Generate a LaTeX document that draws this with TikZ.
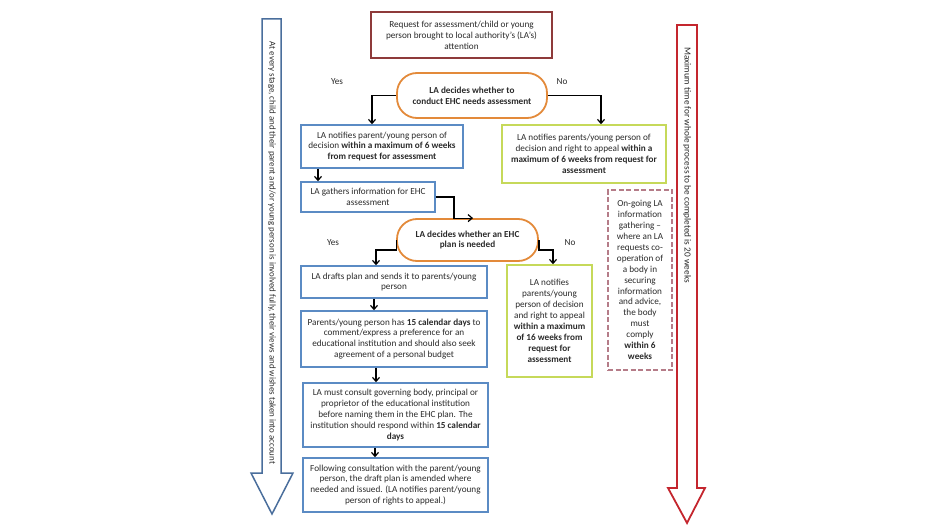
\documentclass[tikz,border=0pt]{standalone}
\usepackage{fontspec}
\setmainfont{Carlito}
\usetikzlibrary{arrows.meta}
\definecolor{boxblue}{HTML}{5B8BC4}
\definecolor{boxgreen}{HTML}{C6D95A}
\definecolor{boxorange}{HTML}{E38A3A}
\definecolor{boxred}{HTML}{8E3A3A}
\definecolor{boxmauve}{HTML}{B57C88}
\definecolor{arrblue}{HTML}{4A6E9C}
\definecolor{arrred}{HTML}{C4262E}
\definecolor{txt}{HTML}{2A2A2A}
\tikzset{
  base/.style={draw, line width=1.5pt, align=center, inner sep=1pt, text=txt,
    font=\fontsize{9.2}{10.9}\selectfont},
  bluebox/.style={base, draw=boxblue},
  greenbox/.style={base, draw=boxgreen},
  redbox/.style={base, draw=boxred},
  decision/.style={base, draw=boxorange, line width=1.8pt, rounded corners=20pt,
    font=\fontsize{9.2}{10.9}\selectfont\bfseries},
  dashbox/.style={base, draw=boxmauve, line width=2pt, dash pattern=on 5pt off 2.5pt},
  lbl/.style={text=txt, font=\fontsize{9.2}{10}\selectfont},
  arr/.style={line width=1.2pt, black, -{Straight Barb[length=4pt,width=7pt]}},
}
\begin{document}
\begin{tikzpicture}[x=1pt,y=-1pt]
\useasboundingbox (0,0) rectangle (950,532);
% big side arrows
\draw[arrblue, line width=1.5pt, line join=miter]
  (262,19) -- (281,19) -- (281,473) -- (293,473) -- (272,514) -- (251,473) -- (262,473) -- cycle;
\node[lbl, rotate=-90, font=\fontsize{8.9}{9}\selectfont] (lefttxt) at (272,253)
  {At every stage, child and their parent and/or young person is involved fully, their views and wishes taken into account};
\draw[arrred, line width=1.8pt, line join=miter]
  (677,25) -- (697,25) -- (697,488) -- (705,488) -- (687,523) -- (668,488) -- (677,488) -- cycle;
\node[lbl, rotate=-90, font=\fontsize{9.3}{9}\selectfont] (righttxt) at (687,165)
  {Maximum time for whole process to be completed is 20 weeks};
% nodes
\node[redbox, minimum width=181pt, minimum height=46pt] (top) at (461.5,35)
  {Request for assessment/child or young\\person brought to local authority’s (LA’s)\\attention};
\node[decision, minimum width=150pt, minimum height=45pt] (d1) at (472,95.5)
  {LA decides whether to\\conduct EHC needs assessment};
\node[bluebox, minimum width=162pt, minimum height=43pt] (a) at (382,146.5)
  {LA notifies parent/young person of\\decision \textbf{within a maximum of 6 weeks}\\\textbf{from request for assessment}};
\node[greenbox, minimum width=164pt, minimum height=58pt] (b) at (584,154)
  {LA notifies parents/young person of\\decision and right to appeal \textbf{within a}\\\textbf{maximum of 6 weeks from request for}\\\textbf{assessment}};
\node[bluebox, minimum width=134pt, minimum height=30pt] (c) at (368,197)
  {LA gathers information for EHC\\assessment};
\node[decision, minimum width=141pt, minimum height=42pt] (d2) at (467.5,240)
  {LA decides whether an EHC\\plan is needed};
\node[bluebox, minimum width=186pt, minimum height=32pt] (d) at (394,282)
  {LA drafts plan and sends it to parents/young\\person};
\node[bluebox, minimum width=186pt, minimum height=56pt] (e) at (394,339)
  {Parents/young person has \textbf{15 calendar days} to\\comment/express a preference for an\\educational institution and should also seek\\agreement of a personal budget};
\node[greenbox, minimum width=85pt, minimum height=112pt] (f) at (549.5,321)
  {LA notifies\\parents/young\\person of decision\\and right to appeal\\\textbf{within a maximum}\\\textbf{of 16 weeks from}\\\textbf{request for}\\\textbf{assessment}};
\node[dashbox, minimum width=64pt, minimum height=180pt] (g) at (640,280)
  {On-going LA\\information\\gathering –\\where an LA\\requests co-\\operation of\\a body in\\securing\\information\\and advice,\\the body\\must\\comply\\\textbf{within 6}\\\textbf{weeks}};
\node[bluebox, minimum width=185pt, minimum height=64pt] (h) at (395.5,415)
  {LA must consult governing body, principal or\\proprietor of the educational institution\\before naming them in the EHC plan. The\\institution should respond within \textbf{15 calendar}\\\textbf{days}};
\node[bluebox, minimum width=185pt, minimum height=54pt] (i) at (395.5,485)
  {Following consultation with the parent/young\\person, the draft plan is amended where\\needed and issued. (LA notifies parent/young\\person of rights to appeal.)};
% labels
\node[lbl] (yes1) at (337,82) {Yes};
\node[lbl] (no1) at (562,82) {No};
\node[lbl] (yes2) at (333,243) {Yes};
\node[lbl] (no2) at (570,243) {No};
% connectors
\draw[arr] (d1.west) -| ([xshift=-10pt]a.north);
\draw[arr] (d1.east) -| ([xshift=17pt]b.north);
\draw[arr] ([xshift=-64pt]a.south) -- ([xshift=-64pt]a.south |- c.north);
\draw[arr] (c.east) -| ([xshift=-13.5pt]d2.north) -- ([xshift=5.5pt]d2.north);
\draw[arr] (d2.west) -- ++(0,10) -| ([xshift=-18pt]d.north);
\draw[arr] (d2.east) -- ++(0,10) -| ([xshift=3.5pt]f.north);
\draw[arr] ([xshift=-20pt]d.south) -- ([xshift=-20pt]d.south |- e.north);
\draw[arr] ([xshift=-18pt]e.south) -- ([xshift=-18pt]e.south |- h.north);
\draw[arr] ([xshift=-20.5pt]h.south) -- ([xshift=-20.5pt]h.south |- i.north);
\end{tikzpicture}
\end{document}
